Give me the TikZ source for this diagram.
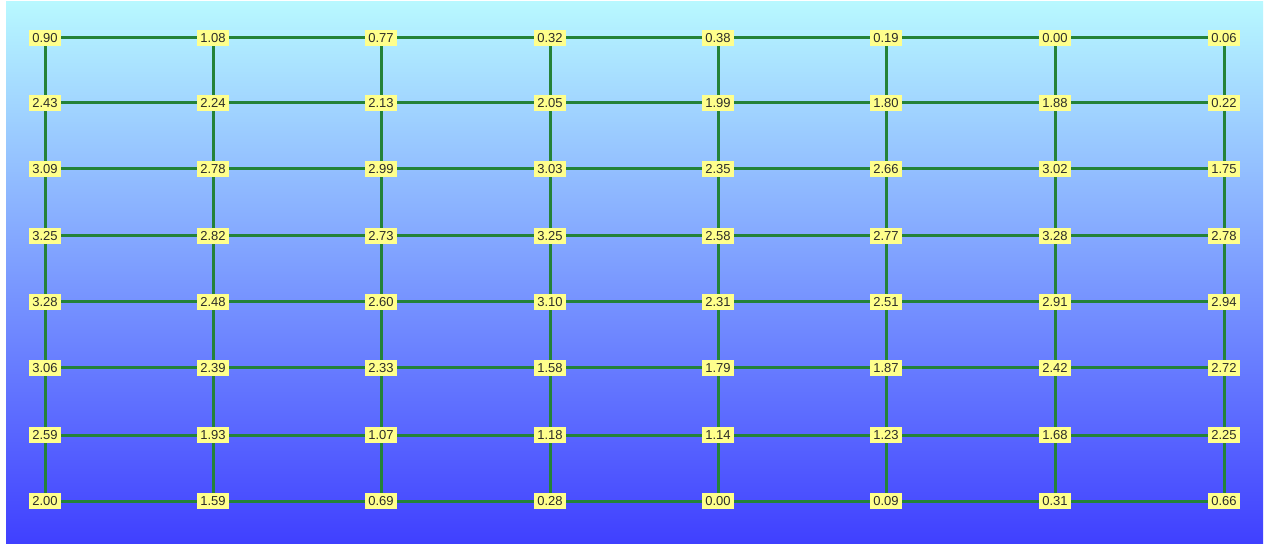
\documentclass[tikz,border=0pt]{standalone}
\usepackage{fontspec}
\setmainfont{Liberation Sans}
\pgfdeclarelayer{bg}
\pgfdeclarelayer{edges}
\pgfsetlayers{bg,edges,main}
\definecolor{topc}{RGB}{184,248,255}
\definecolor{botc}{RGB}{64,64,255}
\definecolor{edgec}{RGB}{36,130,56}
\definecolor{labfill}{RGB}{255,255,140}
\definecolor{labtext}{RGB}{45,45,40}
\tikzset{
  val/.style={rectangle, fill=labfill, text=labtext, inner xsep=3pt, inner ysep=0pt,
    minimum height=16pt, font=\fontsize{13}{14}\selectfont},
  link/.style={draw=edgec, line width=3pt}
}
\begin{document}
\begin{tikzpicture}[x=1pt,y=-1pt]
\useasboundingbox (0,0) rectangle (1267,545);
\begin{pgfonlayer}{bg}
\fill[white] (0,0) rectangle (1267,545);
\shade[top color=topc, bottom color=botc] (6,2) rectangle (1263,543);
\end{pgfonlayer}
\def\xs{{45,213,381,550,718,886,1055,1224}}
\def\ys{{38,103,169,236,302,368,435,501}}
\foreach \r/\vals in {
 1/{0.90,1.08,0.77,0.32,0.38,0.19,0.00,0.06},
 2/{2.43,2.24,2.13,2.05,1.99,1.80,1.88,0.22},
 3/{3.09,2.78,2.99,3.03,2.35,2.66,3.02,1.75},
 4/{3.25,2.82,2.73,3.25,2.58,2.77,3.28,2.78},
 5/{3.28,2.48,2.60,3.10,2.31,2.51,2.91,2.94},
 6/{3.06,2.39,2.33,1.58,1.79,1.87,2.42,2.72},
 7/{2.59,1.93,1.07,1.18,1.14,1.23,1.68,2.25},
 8/{2.00,1.59,0.69,0.28,0.00,0.09,0.31,0.66}}{
  \foreach \v [count=\c] in \vals {
    \pgfmathsetmacro{\px}{\xs[\c-1]}
    \pgfmathsetmacro{\py}{\ys[\r-1]}
    \node[val] (n-\r-\c) at (\px,\py) {\v};
  }
}
\begin{pgfonlayer}{edges}
\foreach \r in {1,...,8}{
  \foreach \c [evaluate=\c as \cn using int(\c+1)] in {1,...,7}{
    \draw[link] (n-\r-\c.center) -- (n-\r-\cn.center);
  }
}
\foreach \c in {1,...,8}{
  \foreach \r [evaluate=\r as \rn using int(\r+1)] in {1,...,7}{
    \draw[link] (n-\r-\c.center) -- (n-\rn-\c.center);
  }
}
\end{pgfonlayer}
\end{tikzpicture}
\end{document}
